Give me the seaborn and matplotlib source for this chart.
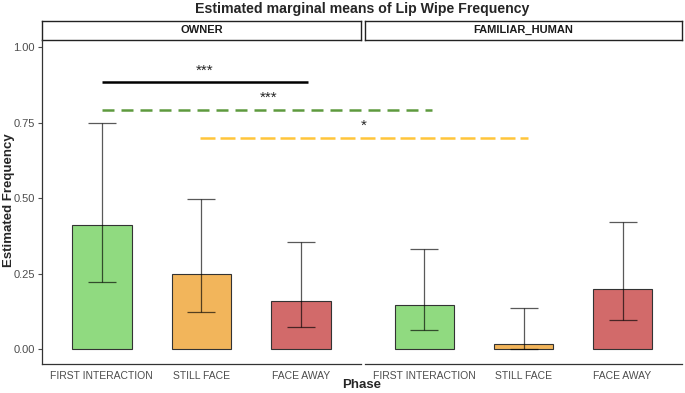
import matplotlib
matplotlib.use('Agg')
from matplotlib import pyplot as plt
import pandas as pd
import seaborn as sns

phases = ['FIRST INTERACTION', 'STILL FACE', 'FACE AWAY']
groups = ['OWNER', 'FAMILIAR_HUMAN']
phase_colors = ['#90DA80', '#F2B55B', '#D26A6A']

owner_mean = [0.41, 0.25, 0.159]
owner_lower = [0.223, 0.122, 0.073]
owner_upper = [0.75, 0.497, 0.354]

familiar_mean = [0.146, 0.017, 0.200]
familiar_lower = [0.064, 0.002, 0.097]
familiar_upper = [0.332, 0.137, 0.420]

# significance lines, in OWNER panel coords (they run on past the panel edge)
sig_x0 = [0.0, 0.0, 0.985]
sig_x1 = [2.07, 3.31, 4.28]
sig_y = [0.886, 0.793, 0.70]
sig_labels = ['***', '***', '*']
sig_label_x = [1.03, 1.67, 2.63]
sig_label_y = [0.922, 0.832, 0.740]
sig_colors = ['black', '#5E9A3E', '#FFC53A']
sig_dashes = [None, (4.8, 2.8), (6, 2)]

df = pd.DataFrame({
    'Group': [g for g in groups for _ in phases],
    'Phase': phases * 2,
    'Mean': owner_mean + familiar_mean,
    'Lower': owner_lower + familiar_lower,
    'Upper': owner_upper + familiar_upper,
})

sns.set_style('white')
plt.rcParams['font.family'] = ['Liberation Sans', 'DejaVu Sans']

fig = plt.figure(figsize=(6.85, 3.93), dpi=100)
ax_r = fig.add_axes([365 / 685, 1 - 364 / 393, 317 / 685, 324 / 393])
ax_l = fig.add_axes([42 / 685, 1 - 364 / 393, 319 / 685, 324 / 393])
ax_l.set_zorder(3)
ax_l.patch.set_alpha(0)

for ax, grp in zip([ax_l, ax_r], groups):
    sub = df[df['Group'] == grp]
    sns.barplot(ax=ax, data=sub, x='Phase', y='Mean', hue='Phase', order=phases,
                palette=phase_colors, saturation=1, width=0.6, edgecolor='#333333',
                linewidth=0.8, legend=False, errorbar=None)
    for i, (_, row) in enumerate(sub.iterrows()):
        ax.errorbar(i, row['Mean'],
                    yerr=[[row['Mean'] - row['Lower']], [row['Upper'] - row['Mean']]],
                    fmt='none', ecolor='black', alpha=0.65, elinewidth=0.9,
                    capsize=10, capthick=0.9)
    ax.set_xlim(-0.6, 2.6)
    ax.set_ylim(-0.049, 1.024)
    ax.set_xlabel('')
    ax.set_ylabel('')
    ax.tick_params(axis='x', colors='#4D4D4D', labelsize=7.5, length=3, width=0.8, pad=2)
    for lab in ax.get_xticklabels():
        lab.set_color('#4D4D4D')
    sns.despine(ax=ax)
    ax.spines['bottom'].set_color('#333333')
    ax.spines['bottom'].set_linewidth(0.9)

ax_l.set_yticks([0, 0.25, 0.5, 0.75, 1.0])
ax_l.set_yticklabels(['0.00', '0.25', '0.50', '0.75', '1.00'])
ax_l.tick_params(axis='y', colors='#4D4D4D', labelsize=8, length=3, width=0.8, pad=2, left=True)
for lab in ax_l.get_yticklabels():
    lab.set_color('#4D4D4D')
ax_l.spines['left'].set_color('#333333')
ax_l.spines['left'].set_linewidth(0.9)
ax_r.spines['left'].set_visible(False)
ax_r.set_yticks([])

# facet strips
for left, width, grp in [(42, 319, groups[0]), (365, 317, groups[1])]:
    sax = fig.add_axes([left / 685, 1 - 39.5 / 393, width / 685, 19 / 393])
    sax.set_xticks([])
    sax.set_yticks([])
    sax.set_facecolor('white')
    for s in sax.spines.values():
        s.set_visible(True)
        s.set_color('#222222')
        s.set_linewidth(1.0)
    sax.text(0.5, 0.5, grp, ha='center', va='center', fontsize=8, fontweight='bold',
             color='#1A1A1A', transform=sax.transAxes)

for x0, x1, y, lab, lx, ly, c, dsh in zip(sig_x0, sig_x1, sig_y, sig_labels,
                                          sig_label_x, sig_label_y, sig_colors, sig_dashes):
    line, = ax_l.plot([x0, x1], [y, y], color=c, lw=1.8, clip_on=False,
                      solid_capstyle='butt', dash_capstyle='butt')
    if dsh is not None:
        line.set_dashes(dsh)
    ax_l.text(lx, ly, lab, ha='center', va='center', fontsize=11, clip_on=False)

fig.text(362 / 685, 1 - 9 / 393, 'Estimated marginal means of Lip Wipe Frequency',
         ha='center', va='center', fontsize=10.2, fontweight='bold')
fig.text(9 / 685, 1 - 200 / 393, 'Estimated Frequency', ha='center', va='center',
         rotation=90, fontsize=9.5, fontweight='bold')
fig.text(362 / 685, 1 - 385 / 393, 'Phase', ha='center', va='center',
         fontsize=9.5, fontweight='bold')

fig.savefig('out.png', dpi=100)
